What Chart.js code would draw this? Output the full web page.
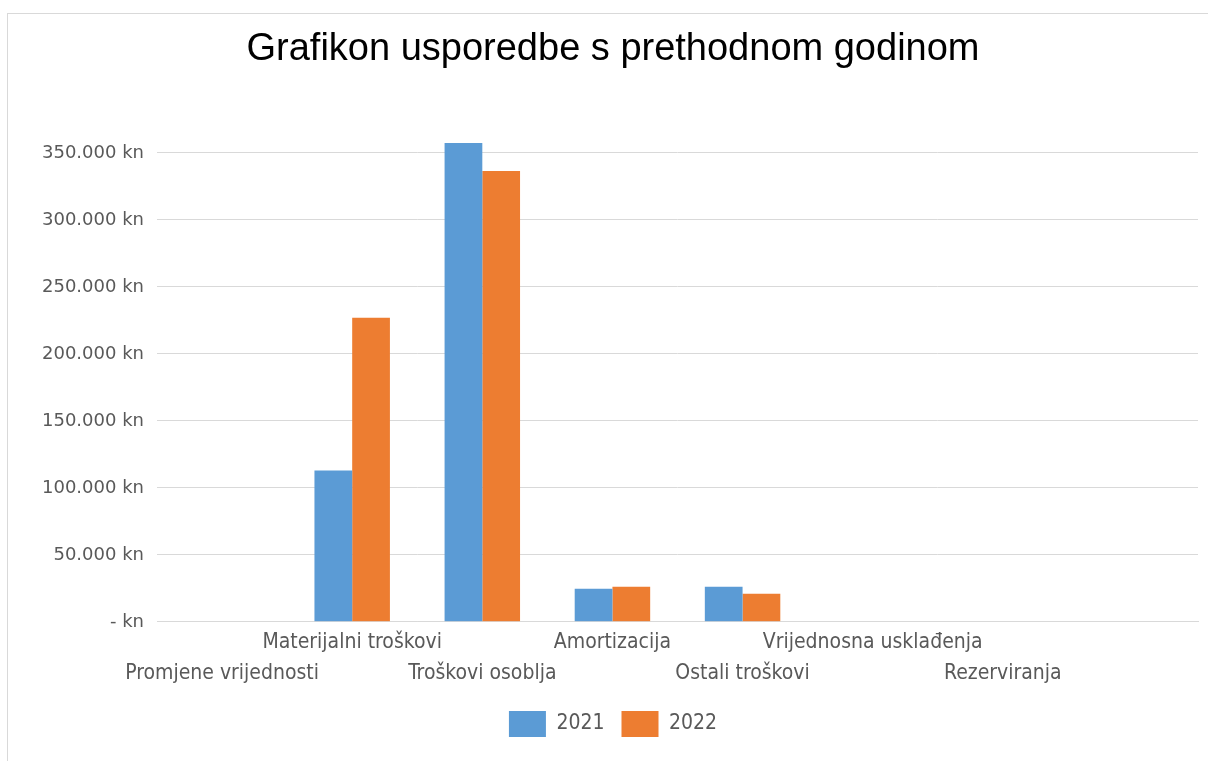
<!DOCTYPE html>
<html lang="hr">
<head>
    <meta charset="UTF-8">
    <title>Grafikon usporedbe s prethodnom godinom</title>
    <script src="https://cdn.jsdelivr.net/npm/chart.js"></script>
    <style>
        body {
            margin: 0;
            background: #fff;
            overflow: hidden;
        }

        .frame {
            position: absolute;
            left: 7px;
            top: 13px;
            width: 1300px;
            height: 800px;
            border: 1px solid #d9d9d9;
        }

        .chart-wrap {
            position: absolute;
            left: 0;
            top: 0;
            width: 1208px;
            height: 761px;
        }
    </style>
</head>
<body>
    <div class="frame"></div>
    <div class="chart-wrap">
        <canvas id="costChart"></canvas>
    </div>

    <script>
        const categories = [
            'Promjene vrijednosti',
            'Materijalni troškovi',
            'Troškovi osoblja',
            'Amortizacija',
            'Ostali troškovi',
            'Vrijednosna usklađenja',
            'Rezerviranja',
            ''
        ];
        const values2021 = [0, 113000, 357500, 24700, 26200, 0, 0, 0];
        const values2022 = [0, 227000, 336500, 26200, 21000, 0, 0, 0];
        const yTicks = [0, 50000, 100000, 150000, 200000, 250000, 300000, 350000];

        function formatKn(v) {
            if (v === 0) return '- kn';
            return String(v).replace(/\B(?=(\d{3})+(?!\d))/g, '.') + ' kn';
        }

        const narrowFont = 'Liberation Sans Narrow, DejaVu Sans Condensed, sans-serif';

        const ctx = document.getElementById('costChart').getContext('2d');
        const costChart = new Chart(ctx, {
            type: 'bar',
            data: {
                labels: categories,
                datasets: [
                    {
                        label: '2021',
                        data: values2021,
                        backgroundColor: '#5b9bd5',
                        borderWidth: 0
                    },
                    {
                        label: '2022',
                        data: values2022,
                        backgroundColor: '#ed7d31',
                        borderWidth: 0
                    }
                ]
            },
            options: {
                responsive: true,
                maintainAspectRatio: false,
                animation: false,
                layout: {
                    padding: { left: 28, right: 10, top: 27, bottom: 14 }
                },
                datasets: {
                    bar: {
                        barPercentage: 1,
                        categoryPercentage: 0.58
                    }
                },
                plugins: {
                    title: {
                        display: true,
                        text: 'Grafikon usporedbe s prethodnom godinom',
                        color: '#000',
                        font: { family: 'Liberation Sans, Arial, sans-serif', size: 38, weight: 'normal' },
                        padding: { top: 0, bottom: 67 }
                    },
                    legend: {
                        position: 'bottom',
                        labels: {
                            boxWidth: 37,
                            boxHeight: 26,
                            color: '#595959',
                            padding: 17,
                            font: { family: narrowFont, size: 21 }
                        }
                    },
                    tooltip: { enabled: false }
                },
                scales: {
                    x: {
                        grid: { display: false, drawTicks: false },
                        border: { color: '#d9d9d9' },
                        ticks: {
                            autoSkip: false,
                            maxRotation: 0,
                            minRotation: 0,
                            padding: 5,
                            color: '#595959',
                            font: { family: narrowFont, size: 21, lineHeight: 1.48 },
                            callback: function (value, index) {
                                const label = categories[index];
                                return index % 2 ? [label, ''] : ['', label];
                            }
                        }
                    },
                    y: {
                        min: 0,
                        max: 360000,
                        afterBuildTicks: function (scale) {
                            scale.ticks = yTicks.map(v => ({ value: v }));
                        },
                        afterFit: function (scale) {
                            scale.width = 129;
                        },
                        grid: { color: '#d9d9d9', drawTicks: false },
                        border: { display: false },
                        ticks: {
                            padding: 13,
                            color: '#595959',
                            font: { family: 'DejaVu Sans, sans-serif', size: 18 },
                            callback: function (value) {
                                return formatKn(value);
                            }
                        }
                    }
                }
            }
        });
    </script>
</body>
</html>
